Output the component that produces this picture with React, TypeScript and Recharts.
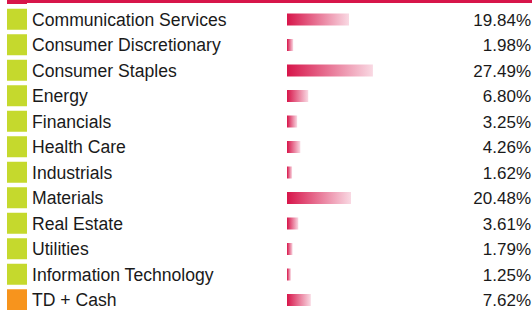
import React from "react";
import { BarChart, Bar, XAxis, YAxis, LabelList } from "recharts";

const sectors = [
  "Communication Services",
  "Consumer Discretionary",
  "Consumer Staples",
  "Energy",
  "Financials",
  "Health Care",
  "Industrials",
  "Materials",
  "Real Estate",
  "Utilities",
  "Information Technology",
  "TD + Cash",
];
const weights = [19.84, 1.98, 27.49, 6.8, 3.25, 4.26, 1.62, 20.48, 3.61, 1.79, 1.25, 7.62];
const swatchColors = [
  "#c5d92d", "#c5d92d", "#c5d92d", "#c5d92d", "#c5d92d", "#c5d92d",
  "#c5d92d", "#c5d92d", "#c5d92d", "#c5d92d", "#c5d92d", "#f7941d",
];

const data = sectors.map((name, i) => ({ name, value: weights[i], color: swatchColors[i] }));

const CRIMSON = "#d7154a";
const FONT = "'Liberation Sans', Arial, sans-serif";
const W = 532;

const SectorTick = (props: any) => {
  const { y, payload, index } = props;
  const color = swatchColors[index] ?? swatchColors[0];
  return (
    <g>
      <rect x={7} y={y - 10.5} width={20} height={21} fill={color} />
      <text x={32} y={y + 6.5} fontSize={17.6} fontFamily={FONT} fill="#1a1a1a" textAnchor="start">
        {payload.value}
      </text>
    </g>
  );
};

const ValueLabel = (props: any) => {
  const { y, height, value } = props;
  return (
    <text x={W - 1} y={y + height / 2 + 6} fontSize={17} fontFamily={FONT} fill="#1a1a1a" textAnchor="end">
      {Number(value).toFixed(2)}%
    </text>
  );
};

export default function App() {
  return (
    <div style={{ position: "absolute", left: 0, top: 0, width: W, height: 310, overflow: "hidden", background: "#fff" }}>
      <div style={{ position: "absolute", left: 7, top: 0, width: W - 7, height: 3, background: CRIMSON }} />
      <div style={{ position: "absolute", left: 7, top: 0, width: 20, height: 4, background: CRIMSON }} />
      <BarChart
        width={W}
        height={312.5}
        data={data}
        layout="vertical"
        margin={{ top: 6.5, right: 0, left: 0, bottom: 0 }}
      >
        <defs>
          <linearGradient id="barGrad" x1="0" y1="0" x2="1" y2="0">
            <stop offset="0%" stopColor={CRIMSON} />
            <stop offset="100%" stopColor="#f9d9e3" />
          </linearGradient>
        </defs>
        <XAxis type="number" hide domain={[0, 78.4]} />
        <YAxis
          type="category"
          dataKey="name"
          width={287}
          axisLine={false}
          tickLine={false}
          interval={0}
          tick={<SectorTick />}
        />
        <Bar dataKey="value" fill="url(#barGrad)" barSize={12} isAnimationActive={false}>
          <LabelList dataKey="value" content={<ValueLabel />} />
        </Bar>
      </BarChart>
    </div>
  );
}
